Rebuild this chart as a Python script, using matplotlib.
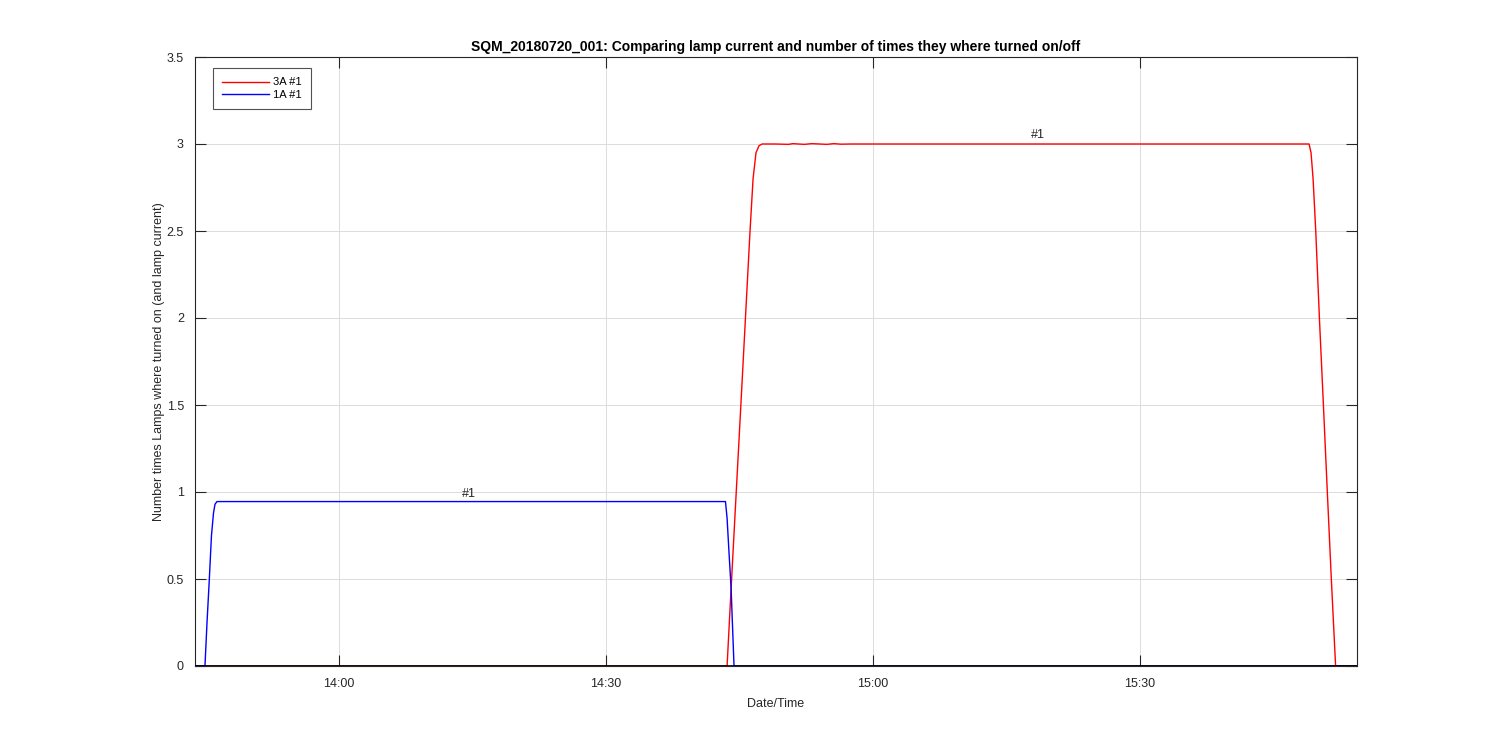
import datetime as dt
import matplotlib
matplotlib.use("Agg")
import matplotlib.pyplot as plt
import matplotlib.dates as mdates

plt.rcParams['font.family'] = ['Liberation Sans', 'DejaVu Sans']

# Minutes relative to 14:00 on 2018-07-20
blue_t = [-16.18, -15.06, -14.83, -14.57, -14.33, -14.10, -13.93, -13.71,
          43.42, 43.60, 43.82, 44.05, 44.27, 44.38, 114.38]
blue_v = [0.0, 0.0, 0.25, 0.5, 0.75, 0.88, 0.93, 0.945,
          0.945, 0.85, 0.65, 0.45, 0.15, 0.0, 0.0]

red_t = [-16.18, 43.55, 43.60, 44.11, 45.15, 46.18, 46.52, 46.85, 47.19, 47.53,
         49.0, 50.5, 51.0, 51.6, 52.3, 53.1, 54.0, 54.8, 55.6, 56.4, 57.5,
         108.99, 109.21, 109.44, 109.74, 110.15, 110.60, 111.04, 111.49, 111.97, 114.38]
red_v = [0.0, 0.0, 0.0, 0.5, 1.5, 2.5, 2.8, 2.95, 2.99, 3.0,
         3.0, 2.998, 3.002, 3.0, 2.998, 3.002, 3.0, 2.998, 3.002, 2.999, 3.0,
         3.0, 2.95, 2.8, 2.5, 2.0, 1.5, 1.0, 0.5, 0.0, 0.0]

count_t = [-16.18, 114.38]
count_v = [0.0, 0.0]

labels = ["3A #1", "1A #1"]
annot_t = [14.61, 78.54]
annot_v = [0.99, 3.05]
annot_txt = ["#1", "#1"]

base = dt.datetime(2018, 7, 20, 14, 0, 0)
def to_dt(ts):
    return [base + dt.timedelta(minutes=m) for m in ts]

fig = plt.figure(figsize=(15, 7.5), dpi=100)
ax = fig.add_axes([0.13, 0.112, 0.7747, 0.812])

ax.plot(to_dt(red_t), red_v, color='#ff0000', lw=1.0, label=labels[0], zorder=3)
ax.plot(to_dt(blue_t), blue_v, color='#0000ff', lw=1.0, label=labels[1], zorder=3)
ax.plot(to_dt(count_t), count_v, color='black', lw=1.2, zorder=4)

for t, v, s in zip(annot_t, annot_v, annot_txt):
    ax.text(to_dt([t])[0], v, s, ha='center', va='center', fontsize=9, color='#262626')

ax.set_xlim(to_dt([-16.18])[0], to_dt([114.38])[0])
ax.set_ylim(0, 3.5)
ax.set_yticks([0, 0.5, 1, 1.5, 2, 2.5, 3, 3.5])
ax.set_yticklabels(['0', '0.5', '1', '1.5', '2', '2.5', '3', '3.5'])
ax.xaxis.set_major_locator(mdates.MinuteLocator(byminute=[0, 30]))
ax.xaxis.set_major_formatter(mdates.DateFormatter('%H:%M'))

ax.grid(True, color='#dcdcdc', lw=0.7)
ax.set_axisbelow(True)
ax.tick_params(direction='in', length=8, width=0.8, top=True, right=True,
               labelsize=9, colors='#262626')
ax.tick_params(axis='x', pad=8.5)
ax.tick_params(axis='y', pad=8)
for sp in ax.spines.values():
    sp.set_color('#262626')
    sp.set_linewidth(0.8)

ax.set_title('SQM_20180720_001: Comparing lamp current and number of times they where turned on/off',
             fontsize=10, fontweight='bold', color='black', pad=4)
ax.set_xlabel('Date/Time', fontsize=9, color='#262626', labelpad=6)
ax.set_ylabel('Number times Lamps where turned on (and lamp current)', fontsize=9, color='#262626', labelpad=1)

leg = ax.legend(loc='upper left', bbox_to_anchor=(0.0155, 0.982), borderaxespad=0,
                fontsize=8, frameon=True, fancybox=False, edgecolor='#262626',
                handlelength=4.2, borderpad=0.85, labelspacing=0.2, handletextpad=0.36)
leg.get_frame().set_linewidth(0.8)

fig.savefig('out.png', dpi=100, facecolor='white')
